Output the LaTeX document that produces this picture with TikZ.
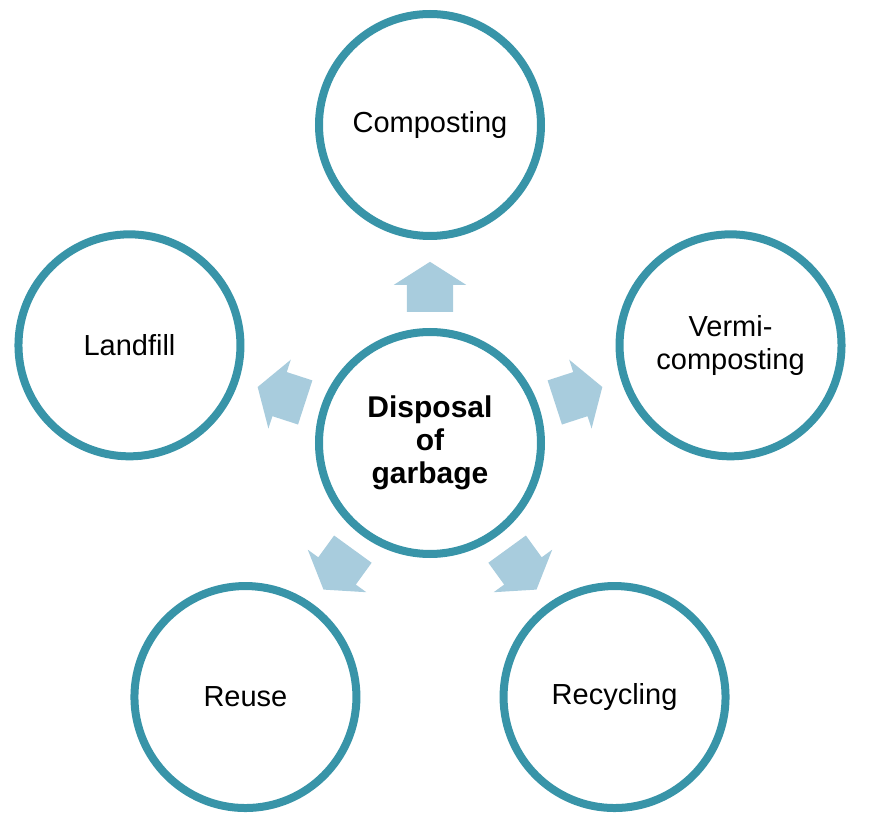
\documentclass[tikz,border=0pt]{standalone}
\usepackage{fontspec}
\setmainfont{Liberation Sans}
\usepackage{tikz}
\usetikzlibrary{
  shapes.arrows,
  shadows
}
\definecolor{ringteal}{RGB}{56,148,168}
\definecolor{arrowblue}{RGB}{168,204,221}
\tikzset{
  bubble/.style={
    circle,
    draw=ringteal,
    line width=8pt,
    fill=white,
    minimum size=222pt,
    align=center,
    font=\fontsize{29}{33}\selectfont},
  blockarrow/.style={
    single arrow,
    fill=arrowblue,
    inner xsep=0pt,
    inner ysep=23pt,
    single arrow head extend=13pt,
    single arrow tip angle=115,
    minimum height=50pt,
    anchor=tail}
  }

\begin{document}
\begin{tikzpicture}[x=1pt,y=1pt]
		\useasboundingbox (-430,-371) rectangle (465,443);
		\node [bubble, font=\fontsize{30}{33}\selectfont\bfseries] (hub) at (0,0) {Disposal\\of\\garbage};
		\node [bubble] (compost) at (90:318) {Composting};
		\node [bubble] (vermi) at (18:316) {Vermi-\\composting};
		\node [bubble] (recycle) at (-54:314) {Recycling};
		\node [bubble] (reuse) at (234:314) {Reuse};
		\node [bubble] (landfill) at (162:316) {Landfill};
		% arrows going out of the hub
		\node [blockarrow, rotate=90] (a1) at (90:131) {};
		\node [blockarrow, rotate=18] (a2) at (18:131) {};
		\node [blockarrow, rotate=-54] (a3) at (-54:131) {};
		\node [blockarrow, rotate=234] (a4) at (234:131) {};
		\node [blockarrow, rotate=162] (a5) at (162:131) {};
	\end{tikzpicture}
\end{document}
